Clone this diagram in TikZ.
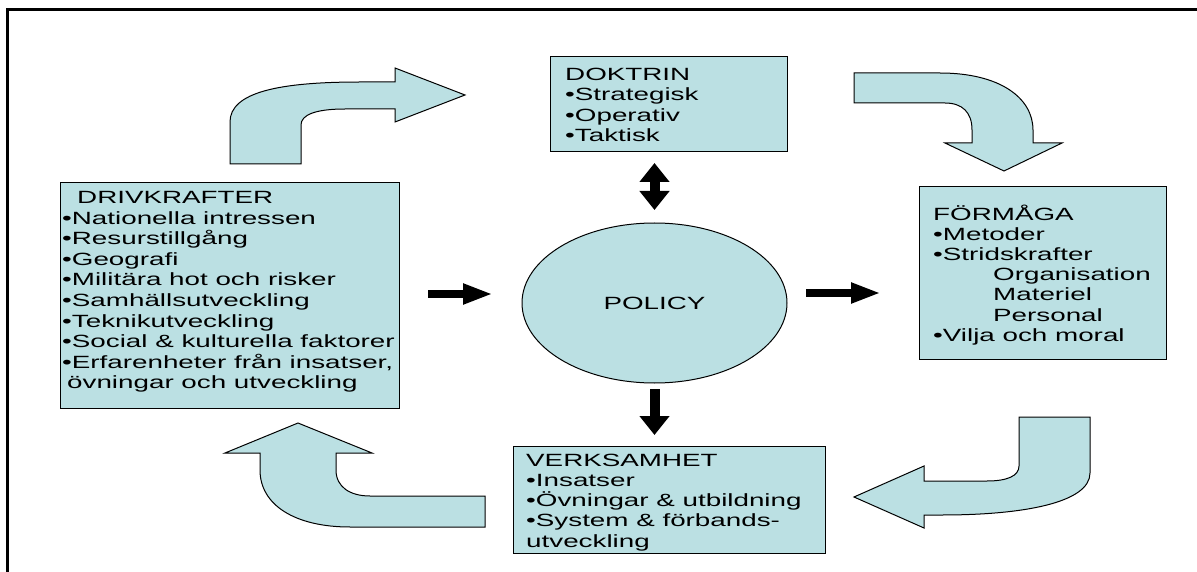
\documentclass[tikz,border=0pt]{standalone}
\usepackage{fontspec}
\setmainfont{Liberation Sans}[FakeStretch=1.57]
\usetikzlibrary{arrows.meta,shapes.geometric}
\definecolor{tealfill}{RGB}{187,224,227}
\tikzset{
  panel/.style={draw=black, fill=tealfill, line width=1pt},
  framebox/.style={panel, rectangle, anchor=north west, inner sep=0pt},
  lines/.style={anchor=north west, inner sep=0pt, align=left},
  flowh/.style={line width=8pt, -{Triangle[length=30pt,width=19pt]}},
  flowv/.style={line width=10pt, -{Triangle[length=19pt,width=29pt]}},
  flowvv/.style={line width=10pt, {Triangle[length=19pt,width=29pt]}-{Triangle[length=19pt,width=29pt]}},
}
\newcommand{\txtA}{\fontsize{17.7}{20.6}\selectfont}
\newcommand{\txtB}{\fontsize{17.7}{20.2}\selectfont}
\begin{document}
\begin{tikzpicture}[x=1pt,y=-1pt]
\useasboundingbox (0,0) rectangle (1197,572);
% page frame (top and left edges)
\draw[line width=3pt] (7,572) -- (7,10) -- (1197,10);

% boxes
\node[framebox, minimum width=237pt, minimum height=95pt] (dok) at (550,56) {};
\node[framebox, minimum width=339pt, minimum height=226pt] (drv) at (60,182) {};
\node[framebox, minimum width=247pt, minimum height=172pt] (frm) at (919,186.5) {};
\node[framebox, minimum width=312pt, minimum height=107pt] (verk) at (513,446) {};
\node[panel, ellipse, minimum width=265pt, minimum height=160pt, inner sep=0pt, font=\txtA] (policy) at (654.5,303) {POLICY};

% box texts
\node[lines, font=\txtB] (doktext) at (565,66.3) {\strut DOKTRIN\\•Strategisk\\•Operativ\\•Taktisk};
\node[lines, font=\txtA] (drvtext) at (62,188.9) {\strut\hspace*{15pt}DRIVKRAFTER\\•Nationella intressen\\•Resurstillgång\\•Geografi\\•Militära hot och risker\\•Samhällsutveckling\\•Teknikutveckling\\•Social \& kulturella faktorer\\•Erfarenheter från insatser,\\\hspace*{5pt}övningar och utveckling};
\node[lines, font=\txtB] (frmtext) at (933,204.4) {\strut FÖRMÅGA\\•Metoder\\•Stridskrafter\\\hspace*{60pt}Organisation\\\hspace*{60pt}Materiel\\\hspace*{60pt}Personal\\•Vilja och moral};
\node[lines, font=\txtB] (verktext) at (526,451.9) {\strut VERKSAMHET\\•Insatser\\•Övningar \& utbildning\\•System \& förbands-\\utveckling};

% straight flow arrows around the policy ellipse
\coordinate (inA) at (428,294);
\coordinate (inB) at (493,294);
\coordinate (outA) at (806,293);
\coordinate (outB) at (881,293);
\coordinate (downA) at (654.5,389);
\coordinate (downB) at (654.5,435);
\coordinate (upA) at (654.5,163);
\coordinate (upB) at (654.5,210);
\draw[flowh] (inA) -- (inB);
\draw[flowh] (outA) -- (outB);
\draw[flowv] (downA) -- (downB);
\draw[flowvv] (upA) -- (upB);

% curved block arrows of the cycle
\draw[panel] (230,164) -- (230,122) .. controls (230,92) and (280,82) .. (360,82) -- (395,82) -- (395,68) -- (465,95) -- (395,122) -- (395,109) -- (345,109) .. controls (315,109) and (301,115) .. (301,125) -- (301,164) -- cycle;
\draw[panel] (854,73) -- (940,73) .. controls (1000,73) and (1033,98) .. (1033,130) -- (1033,143) -- (1062,143) -- (1004,171) -- (945,143) -- (972,143) -- (972,130) .. controls (972,112) and (962,103) .. (945,103) -- (854,103) -- cycle;
\draw[panel] (1019,417) -- (1090,417) -- (1090,473) .. controls (1090,503) and (1022,515) .. (942,515) -- (924,515) -- (924,528) -- (854,497) -- (924,466) -- (924,481) -- (987,481) .. controls (1007,481) and (1019,476) .. (1019,466) -- cycle;
\draw[panel] (298,423) -- (372,453) -- (336,453) -- (336,470) .. controls (336,487) and (350,496) .. (370,496) -- (485,496) -- (485,527) -- (350,527) .. controls (295,527) and (260,505) .. (260,470) -- (260,453) -- (225,453) -- cycle;
\end{tikzpicture}
\end{document}
